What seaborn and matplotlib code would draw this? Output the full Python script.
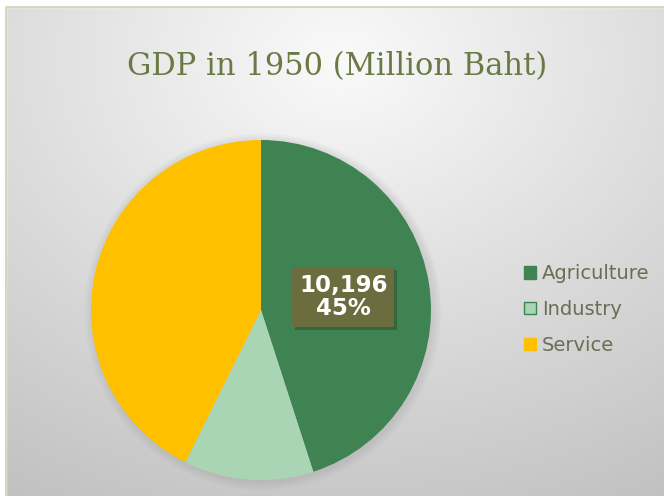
import numpy as np
import seaborn as sns
import matplotlib.pyplot as plt
from matplotlib.patches import Patch, Rectangle, Circle
import matplotlib.patheffects as pe

# data
sectors = ['Agriculture', 'Industry', 'Service']
gdp_1950 = [10196, 2790, 9660]
sector_colors = ['#3e8351', '#a9d5b4', '#ffc000']
label_shown = 'Agriculture'

sns.set_style('white')
plt.rcParams['font.family'] = ['DejaVu Sans']

fig = plt.figure(figsize=(6.64, 4.96), dpi=100)

# background: light gradient with thin border
bg = fig.add_axes([0, 0, 1, 1], zorder=0)
yy, xx = np.mgrid[0:496, 0:664]
dist = np.hypot((xx - 340) / 1.3, yy - 60)
shade = np.clip(0.98 - 0.000445 * dist, 0, 1)
bg.imshow(np.dstack([shade, shade, shade]), extent=(0, 664, 496, 0), aspect='auto')
bg.add_patch(Rectangle((0, 0), 664, 7, color='white'))
bg.add_patch(Rectangle((0, 0), 6, 496, color='white'))
bg.plot([6, 6, 664], [496, 7, 7], color='#d6dabd', lw=1.5)
bg.set_xlim(0, 664)
bg.set_ylim(496, 0)
bg.axis('off')

fig.text(0.507, 0.865, 'GDP in 1950 (Million Baht)', ha='center', va='center',
         fontsize=22, color='#6b7a44', family=['DejaVu Serif'])

ax = fig.add_axes([91 / 664, 16 / 496, 340 / 664, 340 / 496], zorder=1)
total = sum(gdp_1950)

# soft shadow around the pie
for r in np.linspace(1.005, 1.05, 8):
    ax.add_patch(Circle((0.01, -0.01), r, color='#808080', alpha=0.025, lw=0, clip_on=False))


def make_label(pct):
    return ''


wedges, texts, autotexts = ax.pie(gdp_1950, colors=sector_colors, startangle=90,
                                  counterclock=False, autopct=make_label,
                                  pctdistance=0.49, radius=1.0,
                                  wedgeprops=dict(linewidth=0))
ax.set_xlim(-1.0, 1.0)
ax.set_ylim(-1.0, 1.0)
ax.set_aspect('equal')

for name, val, at in zip(sectors, gdp_1950, autotexts):
    if name == label_shown:
        at.set_text(f'{val:,}\n{round(val / total * 100)}%')
        at.set_color('white')
        at.set_fontsize(16.5)
        at.set_fontweight('bold')
        at.set_linespacing(1.0)
        at.set_bbox(dict(boxstyle='square,pad=0.3', facecolor='#6b6d3f', edgecolor='none'))
        at.get_bbox_patch().set_path_effects([pe.withSimplePatchShadow(offset=(2, -2),
                                                                        shadow_rgbFace='#2f4a30', alpha=0.5)])

handles = [Patch(facecolor=c, edgecolor=('#3e8351' if n == 'Industry' else c), label=n)
           for n, c in zip(sectors, sector_colors)]
leg = fig.legend(handles=handles, loc='center left', bbox_to_anchor=(0.763, 0.376),
                 frameon=False, fontsize=14, handlelength=0.6, handleheight=0.6,
                 handletextpad=0.3, labelspacing=0.85, labelcolor='#6a6e55')

fig.savefig('out.png', dpi=100)
